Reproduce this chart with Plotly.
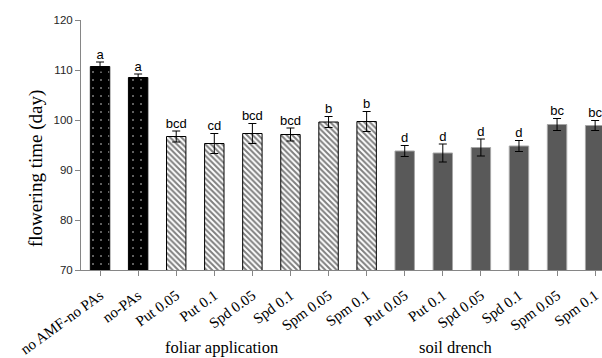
import plotly.graph_objects as go

categories = ["no AMF-no PAs", "no-PAs", "Put 0.05", "Put 0.1", "Spd 0.05", "Spd 0.1",
              "Spm 0.05", "Spm 0.1", "Put 0.05", "Put 0.1", "Spd 0.05", "Spd 0.1",
              "Spm 0.05", "Spm 0.1"]
values = [110.7, 108.5, 96.7, 95.3, 97.3, 97.1, 99.6, 99.7, 93.8, 93.4, 94.5, 94.8, 99.1, 98.9]
errors = [0.9, 0.7, 1.1, 2.0, 2.0, 1.3, 1.1, 2.0, 1.1, 1.8, 1.7, 1.1, 1.2, 1.0]
letters = ["a", "a", "bcd", "cd", "bcd", "bcd", "b", "b", "d", "d", "d", "d", "bc", "bc"]
groups = ["control"] * 2 + ["foliar"] * 6 + ["soil"] * 6
group_labels = ["foliar application", "soil drench"]

idx = list(range(len(categories)))
fig = go.Figure()

styles = {
    "control": dict(color="black", line=dict(color="black", width=1),
                    pattern=dict(shape=".", bgcolor="black", fgcolor="white", size=8, solidity=0.05)),
    "foliar": dict(color="white", line=dict(color="black", width=1),
                   pattern=dict(shape="\\", bgcolor="white", fgcolor="black", size=4, solidity=0.5)),
    "soil": dict(color="#595959", line=dict(color="#a6a6a6", width=1)),
}

for g in ["control", "foliar", "soil"]:
    xs = [i for i in idx if groups[i] == g]
    fig.add_trace(go.Bar(
        x=xs, y=[values[i] for i in xs],
        width=0.51,
        marker=styles[g],
        error_y=dict(type="data", array=[errors[i] for i in xs], color="black",
                     thickness=1, width=4),
        showlegend=False, hoverinfo="skip",
    ))

fig.add_trace(go.Scatter(
    x=idx, y=[v + e for v, e in zip(values, errors)], mode="text",
    text=letters, textposition="top center",
    textfont=dict(family="Liberation Sans, Arial", size=13, color="black"),
    cliponaxis=True, showlegend=False, hoverinfo="skip",
))

fig.update_layout(
    width=602, height=358,
    margin=dict(l=81, r=0, t=20, b=88, autoexpand=False),
    plot_bgcolor="white", paper_bgcolor="white",
    xaxis=dict(
        range=[-0.5, 13.18], automargin=False,
        tickmode="array", tickvals=idx, ticktext=categories,
        tickangle=-36, ticklabeloverflow="allow", ticklabelstandoff=5,
        tickfont=dict(family="Liberation Serif, Times New Roman", size=15, color="black"),
        showline=True, linecolor="#868686", linewidth=1,
        ticks="outside", ticklen=5, tickcolor="#868686",
        showgrid=False, zeroline=False,
    ),
    yaxis=dict(
        range=[70, 120], dtick=10, automargin=False,
        tickfont=dict(family="Liberation Sans, Arial", size=11.5, color="#262626"),
        showline=True, linecolor="#868686", linewidth=1,
        ticks="outside", ticklen=5, tickcolor="#868686",
        showgrid=False, zeroline=False,
    ),
    annotations=[
        dict(text="flowering time (day)", textangle=-90, xref="paper", yref="paper",
             x=-0.0864, y=0.408, xanchor="center", yanchor="middle", showarrow=False,
             font=dict(family="Liberation Serif, Times New Roman", size=19, color="black")),
        dict(text=group_labels[0], xref="x", yref="paper", x=3.18, y=-0.308,
             xanchor="center", yanchor="middle", showarrow=False,
             font=dict(family="Liberation Serif, Times New Roman", size=16.5, color="black")),
        dict(text=group_labels[1], xref="x", yref="paper", x=9.34, y=-0.308,
             xanchor="center", yanchor="middle", showarrow=False,
             font=dict(family="Liberation Serif, Times New Roman", size=16.5, color="black")),
    ],
)

fig.write_html("out.html", config={"displayModeBar": False},
               post_script="document.body.style.margin='0';document.body.style.overflow='hidden';")
